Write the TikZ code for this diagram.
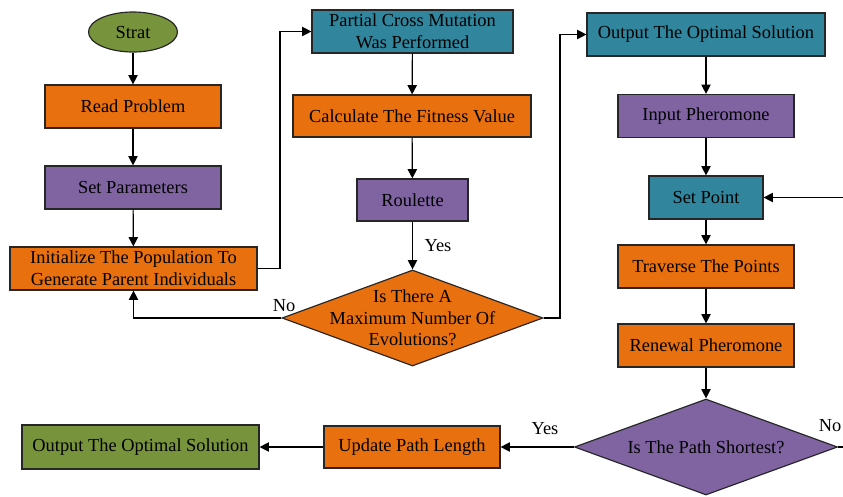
\documentclass[tikz,border=0pt]{standalone}
\usepackage{fontspec}
\setmainfont{LiberationSerif}[Extension=.ttf, UprightFont=*-Regular, BoldFont=*-Bold, ItalicFont=*-Italic, BoldItalicFont=*-BoldItalic]
\usetikzlibrary{shapes.geometric,arrows.meta}
\definecolor{cOrange}{HTML}{E8700F}
\definecolor{cPurple}{HTML}{8064A2}
\definecolor{cTeal}{HTML}{31859C}
\definecolor{cGreen}{HTML}{77933C}
\tikzset{
  box/.style={draw=black!85, line width=1pt, rectangle, inner sep=0pt, align=center,
    font=\rmfamily\fontsize{15.7}{18.5}\selectfont},
  decision/.style={draw=black!85, line width=1pt, diamond, inner sep=0pt},
  dtext/.style={align=center, font=\rmfamily\fontsize{15.7}{18.5}\selectfont},
  lbl/.style={font=\rmfamily\fontsize{15.7}{18.5}\selectfont},
  arr/.style={line width=1pt, -{Triangle[length=8pt,width=8pt]}}
}
\begin{document}
\begin{tikzpicture}[x=0.03cm, y=-0.03cm]
\useasboundingbox (0,0) rectangle (843,496);

% left column
\node[draw=black!85, line width=1pt, ellipse, fill=cGreen, minimum width=89*0.03cm, minimum height=40*0.03cm,
  inner sep=0pt, font=\rmfamily\fontsize{15.7}{18.5}\selectfont] (start) at (133,32) {Strat};
\node[box, fill=cOrange, minimum width=176*0.03cm, minimum height=43*0.03cm] (read) at (133,106.5) {Read Problem};
\node[box, fill=cPurple, minimum width=176*0.03cm, minimum height=43*0.03cm] (setp) at (133,187.5) {Set Parameters};
\node[box, fill=cOrange, minimum width=247*0.03cm, minimum height=43*0.03cm] (init) at (133.5,268.5)
  {Initialize The Population To\\Generate Parent Individuals};

% middle column
\node[box, fill=cTeal, minimum width=201*0.03cm, minimum height=43*0.03cm] (pcm) at (412.5,31.5)
  {Partial Cross Mutation\\Was Performed};
\node[box, fill=cOrange, minimum width=238*0.03cm, minimum height=42*0.03cm] (calc) at (412,116) {Calculate The Fitness Value};
\node[box, fill=cPurple, minimum width=111*0.03cm, minimum height=42*0.03cm] (roul) at (412.5,200) {Roulette};
\node[decision, fill=cOrange, minimum width=261*0.03cm, minimum height=96*0.03cm] (d1) at (412.5,318) {};
\node[dtext] (d1t) at (412.5,318) {Is There A\\Maximum Number Of\\Evolutions?};

% right column
\node[box, fill=cTeal, minimum width=238*0.03cm, minimum height=43*0.03cm] (out1) at (706,34.5) {Output The Optimal Solution};
\node[box, fill=cPurple, minimum width=176*0.03cm, minimum height=43*0.03cm] (inph) at (706,116) {Input Pheromone};
\node[box, fill=cTeal, minimum width=114*0.03cm, minimum height=43*0.03cm] (setpt) at (706,197.5) {Set Point};
\node[box, fill=cOrange, minimum width=176*0.03cm, minimum height=43*0.03cm] (trav) at (706,266.5) {Traverse The Points};
\node[box, fill=cOrange, minimum width=176*0.03cm, minimum height=43*0.03cm] (renew) at (706,345.5) {Renewal Pheromone};
\node[decision, fill=cPurple, minimum width=263*0.03cm, minimum height=96*0.03cm] (d2) at (706,447) {};
\node[dtext] (d2t) at (706,447) {Is The Path Shortest?};

% bottom row
\node[box, fill=cOrange, minimum width=176*0.03cm, minimum height=42*0.03cm] (upd) at (412,447) {Update Path Length};
\node[box, fill=cGreen, minimum width=237*0.03cm, minimum height=44*0.03cm] (outg) at (140.5,447) {Output The Optimal Solution};

% bend points of the loop connectors
\coordinate (k1) at (280,0);
\coordinate (k2) at (560,0);
\coordinate (k3) at (880,0);

% connectors
\draw[arr] (start) -- (read);
\draw[arr] (read) -- (setp);
\draw[arr] (setp) -- (init);
\draw[arr] (init.east) -- (init.east -| k1) |- (pcm.west);
\draw[arr] (pcm) -- (calc);
\draw[arr] (calc) -- (roul);
\draw[arr] (roul) -- (d1.north);
\draw[arr] (d1.west) -| (init.south);
\draw[arr] (d1.east) -- (d1.east -| k2) |- (out1.west);
\draw[arr] (out1) -- (inph);
\draw[arr] (inph) -- (setpt);
\draw[arr] (setpt) -- (trav);
\draw[arr] (trav) -- (renew);
\draw[arr] (renew) -- (d2.north);
\draw[arr] (d2.east) -- (d2.east -| k3) |- (setpt.east);
\draw[arr] (d2.west) -- (upd.east);
\draw[arr] (upd.west) -- (outg.east);

% branch labels
\node[lbl] (yes1) at (438,246) {Yes};
\node[lbl] (no1) at (284,306) {No};
\node[lbl] (yes2) at (545,429) {Yes};
\node[lbl] (no2) at (830,426) {No};
\end{tikzpicture}
\end{document}
